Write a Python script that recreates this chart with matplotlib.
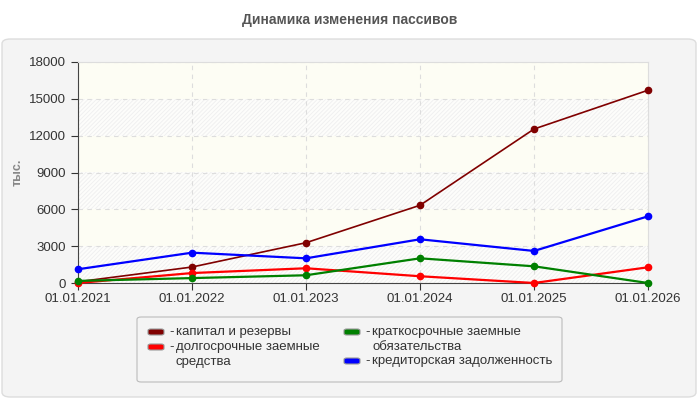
import matplotlib.pyplot as plt
from matplotlib.patches import FancyBboxPatch

plt.rcParams['font.family'] = ['Liberation Sans', 'DejaVu Sans']
plt.rcParams['hatch.linewidth'] = 0.6

dates = ['01.01.2021', '01.01.2022', '01.01.2023', '01.01.2024', '01.01.2025', '01.01.2026']
kapital = [100, 1300, 3280, 6330, 12540, 15700]
dolgosr = [0, 810, 1200, 550, 0, 1280]
kratkosr = [170, 400, 630, 2010, 1360, 0]
kredit = [1120, 2470, 2010, 3560, 2610, 5430]

series = [
    ('капитал и резервы', kapital, '#800000', 1.2),
    ('долгосрочные заемные\nсредства', dolgosr, '#ff0000', 1.6),
    ('краткосрочные заемные\nобязательства', kratkosr, '#008000', 1.6),
    ('кредиторская задолженность', kredit, '#0000ff', 1.6),
]
yticks = [0, 3000, 6000, 9000, 12000, 15000, 18000]

W, H = 700, 400
fig = plt.figure(figsize=(7, 4), dpi=100)
fig.patch.set_facecolor('white')

def px(x, y):
    return x / W, 1 - y / H

# gray rounded panel
panel = FancyBboxPatch((2/W, 3/H), 694/W, 358/H,
                       boxstyle='round,pad=0,rounding_size=0.012',
                       transform=fig.transFigure, facecolor='#f4f4f4',
                       edgecolor='#dddddd', linewidth=1, zorder=-10)
fig.patches.append(panel)

fig.text(*px(350, 20), 'Динамика изменения пассивов', ha='center', va='center',
         fontsize=10, fontweight='bold', color='#555555')

ax = fig.add_axes([78/W, 1 - 283/H, 570/W, 221/H])
ax.set_facecolor('#fdfdf4')
x = list(range(len(dates)))

# alternating hatched bands
for lo in [0, 6000, 12000]:
    ax.axhspan(lo, lo + 3000, facecolor='#fdfdfb', edgecolor='#efefef',
               hatch='////////', linewidth=0, zorder=0)

for label, vals, col, lw in series:
    ax.plot(x, vals, color=col, lw=lw, marker='o', markersize=4.5, zorder=3, clip_on=False)

ax.set_xlim(0, len(dates) - 1)
ax.set_ylim(0, 18000)
ax.set_xticks(x)
ax.set_xticklabels(dates)
ax.set_yticks(yticks)
ax.tick_params(labelsize=9.5, colors='#333333', length=5, width=0.8)
ax.tick_params(axis='x', pad=2)
ax.grid(True, color='#dddddd', linestyle=(0, (4, 4)), linewidth=0.8, zorder=1)
ax.set_axisbelow(True)
for s in ['top', 'right']:
    ax.spines[s].set_color('#dddddd')
for s in ['left', 'bottom']:
    ax.spines[s].set_color('#444444')

fig.text(*px(18, 172), 'тыс.', rotation=90, ha='center', va='center',
         fontsize=9, fontweight='bold', color='#888888')

# legend drawn by hand
box = FancyBboxPatch((137/W, 1 - 382/H), 425/W, 65/H,
                     boxstyle='round,pad=0,rounding_size=0.006',
                     transform=fig.transFigure, facecolor='#f4f4f4',
                     edgecolor='#bbbbbb', linewidth=0.8, zorder=-5)
fig.patches.append(box)
leg_pos = [(147, 332), (147, 347), (343, 332), (343, 361)]
for (label, _, col, _), (lx, ly) in zip(series, leg_pos):
    h = FancyBboxPatch(((lx + 1)/W, 1 - (ly + 3)/H), 16/W, 6/H,
                       boxstyle='round,pad=0,rounding_size=0.004',
                       transform=fig.transFigure, facecolor=col,
                       edgecolor='#999999', linewidth=0.8)
    fig.patches.append(h)
    lines = label.split('\n')
    fig.text(*px(lx + 22, ly), '-', ha='left', va='center', fontsize=9.5, color='#333333')
    for i, ln in enumerate(lines):
        fig.text(*px(lx + 29, ly + i * 15), ln, ha='left', va='center',
                 fontsize=9.5, color='#333333')

fig.savefig('out.png', dpi=100)
